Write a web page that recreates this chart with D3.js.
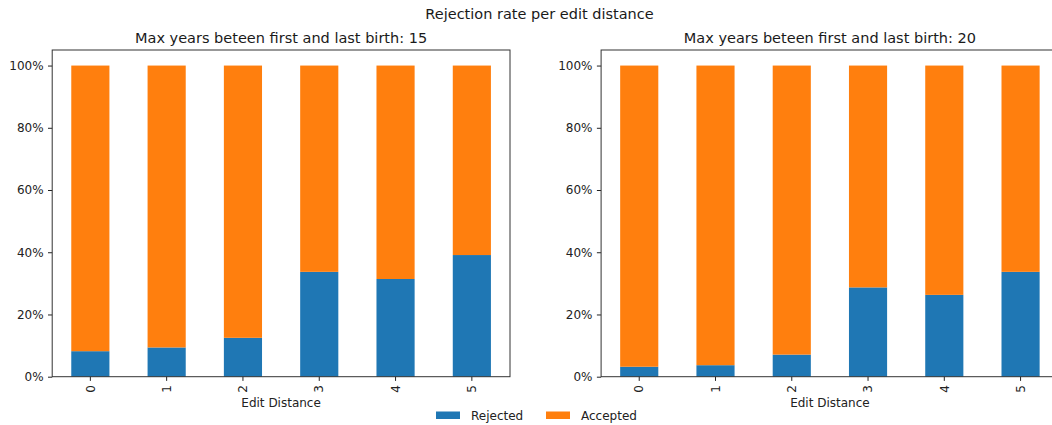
<!DOCTYPE html>
<html>
<head>
<meta charset="utf-8">
<script src="https://cdn.jsdelivr.net/npm/d3@7"></script>
<style>
  html, body { margin: 0; padding: 0; background: #fff; }
  svg { display: block; font-family: "DejaVu Sans", sans-serif; }
</style>
</head>
<body>
<svg id="chart" width="1052" height="425"></svg>
<script>
// ---- data ----
const categories = ["0", "1", "2", "3", "4", "5"];
const rejected15 = [0.082, 0.094, 0.125, 0.337, 0.314, 0.391];
const rejected20 = [0.032, 0.037, 0.071, 0.287, 0.263, 0.337];
const yTicks = [0, 0.2, 0.4, 0.6, 0.8, 1.0];
const seriesNames = ["Rejected", "Accepted"];
const seriesColors = ["#1f77b4", "#ff7f0e"];
const panelTitles = ["Max years beteen first and last birth: 15", "Max years beteen first and last birth: 20"];
const mainTitle = "Rejection rate per edit distance";
const xLabel = "Edit Distance";

const svg = d3.select("#chart");
const plotTop = 50, plotBottom = 376.7;
const tickFont = 12, titleFont = 14.5;
const panels = [
  { left: 52.2, right: 510, rej: rejected15, title: panelTitles[0] },
  { left: 601.1, right: 1058.7, rej: rejected20, title: panelTitles[1] }
];

svg.append("text").attr("x", 539.5).attr("y", 18.5).attr("text-anchor", "middle")
  .attr("font-size", titleFont).attr("fill", "#1a1a1a").text(mainTitle);

panels.forEach(p => {
  const g = svg.append("g");
  const x = d3.scaleBand().domain(categories).range([p.left, p.right]).paddingInner(0.5).paddingOuter(0.25);
  const y = d3.scaleLinear().domain([0, 1.05]).range([plotBottom, plotTop]);

  const rows = categories.map((c, i) => ({ cat: c, Rejected: p.rej[i], Accepted: 1 - p.rej[i] }));
  const stacked = d3.stack().keys(seriesNames)(rows);

  stacked.forEach((layer, li) => {
    g.selectAll(null).data(layer).enter().append("rect")
      .attr("x", d => x(d.data.cat))
      .attr("width", x.bandwidth())
      .attr("y", d => y(d[1]))
      .attr("height", d => y(d[0]) - y(d[1]))
      .attr("fill", seriesColors[li]);
  });

  // y axis
  const yAxis = d3.axisLeft(y).tickValues(yTicks).tickFormat(d3.format(".0%")).tickSize(4.2).tickPadding(4.4);
  const ya = g.append("g").attr("transform", `translate(${p.left},0)`).call(yAxis);
  ya.select(".domain").remove();
  ya.selectAll("text").attr("font-size", tickFont).attr("fill", "#222").attr("font-family", "DejaVu Sans");
  ya.selectAll("line").attr("stroke", "#222").attr("stroke-width", 1);

  // x axis
  const xAxis = d3.axisBottom(x).tickSize(4.2).tickPadding(4.2);
  const xa = g.append("g").attr("transform", `translate(0,${plotBottom})`).call(xAxis);
  xa.select(".domain").remove();
  xa.selectAll("line").attr("stroke", "#222").attr("stroke-width", 1);
  xa.selectAll("text")
    .attr("font-size", tickFont).attr("fill", "#222").attr("font-family", "DejaVu Sans")
    .attr("transform", "rotate(-90)")
    .attr("text-anchor", "end")
    .attr("x", -8.4).attr("y", 0).attr("dy", "0.35em");

  // frame
  g.append("rect").attr("x", p.left).attr("y", plotTop)
    .attr("width", p.right - p.left).attr("height", plotBottom - plotTop)
    .attr("fill", "none").attr("stroke", "#333").attr("stroke-width", 1);

  // panel title
  g.append("text").attr("x", (p.left + p.right) / 2).attr("y", 43).attr("text-anchor", "middle")
    .attr("font-size", titleFont).attr("fill", "#1a1a1a").text(p.title);

  // x label
  g.append("text").attr("x", (p.left + p.right) / 2).attr("y", 406.5).attr("text-anchor", "middle")
    .attr("font-size", tickFont).attr("fill", "#222").text(xLabel);
});

// legend
const legendItems = [{ x: 436, tx: 471 }, { x: 546, tx: 581 }];
seriesNames.forEach((name, i) => {
  svg.append("rect").attr("x", legendItems[i].x).attr("y", 411.5)
    .attr("width", 24).attr("height", 7.5).attr("fill", seriesColors[i]);
  svg.append("text").attr("x", legendItems[i].tx).attr("y", 419.5)
    .attr("font-size", tickFont).attr("fill", "#222").text(name);
});
</script>
</body>
</html>
